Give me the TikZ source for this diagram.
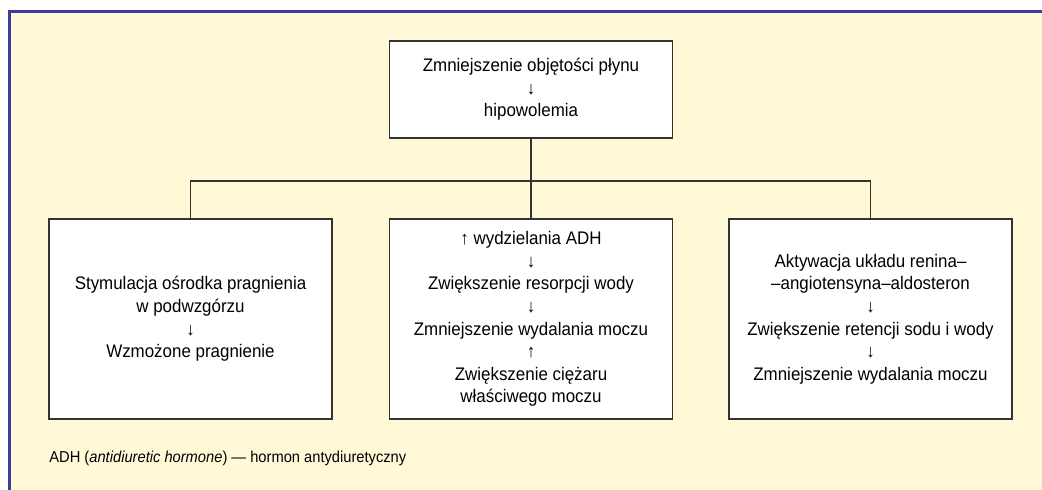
\documentclass[tikz,border=0pt]{standalone}
\usepackage{fontspec}
\setmainfont{Liberation Sans}[FakeStretch=0.93]
\usetikzlibrary{calc}
\definecolor{paper}{HTML}{FFF9D7}
\definecolor{frameblue}{HTML}{3C3C9C}
\colorlet{linecol}{black!80}
\tikzset{
  stepbox/.style={draw=linecol,line width=0.6pt,fill=white,align=center,
                  inner sep=0pt,minimum width=141.5pt,
                  font=\fontsize{9.1}{11.3}\selectfont},
  link/.style={draw=linecol,line width=0.6pt}}

\begin{document}
\begin{tikzpicture}[x=0.5pt,y=-0.5pt]
  \def\W{1042}  % width picture
  \def\H{490}   % height picture
  \def\yt{89.5} % middle of top box
  \def\yb{319}  % middle of lower boxes
  \coordinate (S) at (531,181); % split point
  \useasboundingbox (0,0) rectangle (\W,\H);
  
  % FRAME
  \fill[paper] (9,11) rectangle (\W,\H);
  \draw[frameblue,line width=1.5pt] (9.5,\H) -- (9.5,11.5) -- (\W,11.5);
  
  % BOXES
  \node[stepbox,minimum height=48.5pt] (top) at (531,\yt)
    {Zmniejszenie objętości płynu\\↓\\hipowolemia};
  \node[stepbox,minimum height=100pt] (thirst) at (190.5,\yb)
    {Stymulacja ośrodka pragnienia\\w podwzgórzu\\↓\\Wzmożone pragnienie};
  \node[stepbox,minimum height=100pt] (adh) at (531,\yb)
    {↑ wydzielania ADH\\↓\\Zwiększenie resorpcji wody\\↓\\Zmniejszenie wydalania moczu\\↑\\Zwiększenie ciężaru\\właściwego moczu};
  \node[stepbox,minimum height=100pt] (raas) at (870.5,\yb)
    {Aktywacja układu renina–\\–angiotensyna–aldosteron\\↓\\Zwiększenie retencji sodu i wody\\↓\\Zmniejszenie wydalania moczu};
  
  % LINES
  \draw[link] (top) -- (S);
  \draw[link] (thirst.north) |- (S) -| (raas.north);
  \draw[link] (S) -- (adh);
  
  % NOTE
  \node[anchor=west,inner sep=0pt,font=\fontsize{7.9}{9}\selectfont] (note) at (49,458)
    {ADH (\textit{antidiuretic hormone}) — hormon antydiuretyczny};
  
\end{tikzpicture}
\end{document}
